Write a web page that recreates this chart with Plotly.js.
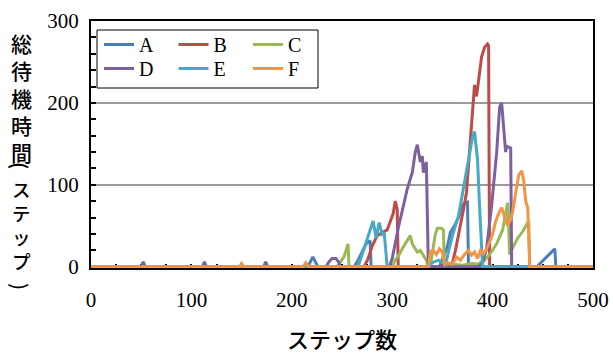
<!DOCTYPE html>
<html>
<head>
<meta charset="utf-8">
<script src="https://cdn.plot.ly/plotly-3.0.1.min.js"></script>
<style>html,body{margin:0;padding:0;background:#fff;}#chart{width:613px;height:354px;}</style>
</head>
<body>
<div id="chart"></div>
<script>
// Series data (step, total waiting time)
const seriesNames = ["A", "B", "C", "D", "E", "F"];
const seriesColors = ["#4A7EBB", "#BE4B48", "#98B954", "#7D60A0", "#46AAC5", "#F59443"];

const stepsA = [0, 216, 221, 226, 262, 266, 270, 274, 278, 279, 347, 352, 355, 358, 362, 366, 370, 373, 375, 376, 444, 462, 463, 500];
const valsA  = [0, 0, 12, 0, 0, 8, 18, 28, 32, 0, 0, 15, 25, 42, 50, 60, 75, 79, 79, 0, 0, 22, 0, 0];

const stepsB = [0, 272, 276, 280, 285, 290, 295, 298, 301, 303, 305, 306, 359, 363, 367, 371, 374, 377, 380, 382, 384, 389, 392, 395, 396, 397, 500];
const valsB  = [0, 0, 10, 25, 38, 42, 45, 55, 65, 80, 70, 0, 0, 20, 43, 70, 91, 139, 191, 222, 208, 256, 268, 272, 270, 0, 0];

const stepsC = [0, 245, 248, 252, 255, 256, 257, 300, 303, 307, 311, 315, 318, 320, 322, 325, 328, 332, 334, 336, 338, 341, 343, 345, 349, 351, 352, 360, 370, 380, 385, 392, 397, 404, 410, 414, 415, 416, 417, 420, 425, 430, 435, 436, 437, 500];
const valsC  = [0, 0, 5, 12, 24, 28, 0, 0, 8, 15, 24, 32, 38, 28, 24, 18, 20, 12, 8, 0, 0, 25, 40, 47, 47, 45, 0, 3, 2, 4, 3, 8, 15, 28, 45, 72, 78, 50, 15, 23, 35, 43, 55, 56, 0, 0];

const stepsD = [0, 50, 52, 54, 111, 113, 115, 172, 174, 176, 234, 237, 240, 244, 247, 248, 297, 300, 306, 311, 315, 320, 323, 325, 328, 330, 331, 334, 336, 386, 390, 394, 399, 404, 407, 409, 412, 413, 414, 418, 419, 500];
const valsD  = [0, 0, 6, 0, 0, 6, 0, 0, 6, 0, 0, 6, 10, 10, 5, 0, 0, 10, 47, 75, 95, 115, 140, 149, 128, 135, 115, 128, 0, 0, 5, 22, 74, 139, 195, 200, 147, 140, 147, 145, 0, 0];

const stepsE = [0, 266, 270, 274, 278, 281, 284, 287, 290, 292, 295, 336, 340, 346, 350, 353, 356, 360, 366, 371, 376, 380, 382, 385, 387, 389, 390, 500];
const valsE  = [0, 0, 15, 30, 45, 56, 35, 54, 40, 42, 0, 0, 5, 8, 5, 2, 18, 38, 62, 95, 131, 158, 165, 131, 74, 18, 0, 0];

const stepsF = [0, 148, 150, 152, 211, 214, 217, 336, 338, 341, 344, 347, 350, 352, 355, 360, 364, 368, 372, 376, 379, 382, 385, 388, 391, 394, 397, 400, 403, 406, 409, 412, 415, 418, 420, 423, 426, 429, 431, 433, 435, 437, 500];
const valsF  = [0, 0, 4, 0, 0, 5, 0, 0, 18, 20, 15, 22, 18, 3, 5, 3, 12, 8, 15, 20, 14, 18, 10, 20, 16, 22, 30, 40, 55, 65, 72, 60, 50, 58, 67, 90, 112, 117, 105, 80, 72, 0, 0];

const xTickVals = [0, 100, 200, 300, 400, 500];
const yTickVals = [0, 100, 200, 300];
const xTitle = "ステップ数";
// vertical y-axis title: "総待機時間(ステップ)" split into stacked groups
const yTitleParts = ["総<br>待<br>機<br>時<br>間", "(", "ス<br>テ<br>ッ<br>プ", ")"];
const yTitleRot = [0, 90, 0, 90];
const yTitleSize = [21, 20, 18.5, 20];
const yTitleCenterPix = [97, 165, 225, 286];

const allSteps = [stepsA, stepsB, stepsC, stepsD, stepsE, stepsF];
const allVals = [valsA, valsB, valsC, valsD, valsE, valsF];

const traces = seriesNames.map((n, i) => ({
  type: "scatter", mode: "lines", name: n,
  x: allSteps[i], y: allVals[i],
  legend: i < 3 ? "legend" : "legend2",
  line: {color: seriesColors[i], width: 3}
}));

// layout geometry (pixels)
const W = 613, H = 354, mL = 91, mR = 20, mT = 21, mB = 86;
const plotH = H - mT - mB;
const plotW = W - mL - mR;
const px2x = p => (p - mL) / plotW;
const py2y = p => (H - mB - p) / plotH;

const annotations = yTitleParts.map((t, i) => ({
  text: t, xref: "paper", yref: "paper", textangle: yTitleRot[i],
  x: px2x(21), y: py2y(yTitleCenterPix[i]),
  xanchor: "center", yanchor: "middle", showarrow: false,
  font: {family: "Noto Sans CJK JP", size: yTitleSize[i], color: "#000", weight: 500}
}));

const legendBase = {
  orientation: "h", xanchor: "left", yanchor: "top",
  bgcolor: "rgba(0,0,0,0)", borderwidth: 0,
  font: {family: "Liberation Serif", size: 20, color: "#000"},
  entrywidth: 29.5, tracegroupgap: 0
};

const layout = {
  width: W, height: H,
  margin: {l: mL, r: mR, t: mT, b: mB},
  paper_bgcolor: "#fff", plot_bgcolor: "#fff",
  showlegend: true,
  legend: Object.assign({}, legendBase, {x: px2x(99), y: py2y(25)}),
  legend2: Object.assign({}, legendBase, {x: px2x(99), y: py2y(49)}),
  shapes: [{
    type: "rect", xref: "paper", yref: "paper", layer: "above",
    x0: px2x(97), x1: px2x(318), y0: py2y(88), y1: py2y(30),
    fillcolor: "#fff", line: {color: "#000", width: 1}
  }],
  xaxis: {
    range: [0, 500], tickvals: xTickVals, ticktext: xTickVals.map(String),
    ticks: "inside", ticklen: 4, tickwidth: 2, tickcolor: "#000",
    minor: {dtick: 25, tick0: 0, ticks: "inside", ticklen: 4, tickwidth: 2, tickcolor: "#000", showgrid: false},
    showgrid: false, zeroline: false, layer: "below traces",
    showline: true, linecolor: "#000", linewidth: 2, mirror: true,
    tickfont: {family: "Liberation Serif", size: 21, color: "#000"},
    ticklabelstandoff: 12,
    title: {text: xTitle, font: {family: "Noto Sans CJK JP", size: 22, color: "#000", weight: 500}, standoff: 32},
    fixedrange: true
  },
  yaxis: {
    range: [-1.5, 300], tickvals: yTickVals, ticktext: yTickVals.map(String),
    ticks: "inside", ticklen: 5, tickwidth: 2, tickcolor: "#000",
    minor: {dtick: 20, tick0: 0, ticks: "inside", ticklen: 5, tickwidth: 2, tickcolor: "#000", showgrid: false},
    showgrid: true, gridcolor: "#9a9a9a", gridwidth: 1.5, zeroline: false, layer: "below traces",
    showline: true, linecolor: "#000", linewidth: 2, mirror: true,
    tickfont: {family: "Liberation Serif", size: 21, color: "#000"},
    ticklabelstandoff: 6,
    fixedrange: true
  },
  annotations: annotations
};

Plotly.newPlot("chart", traces, layout, {displayModeBar: false, staticPlot: true});
</script>
</body>
</html>
